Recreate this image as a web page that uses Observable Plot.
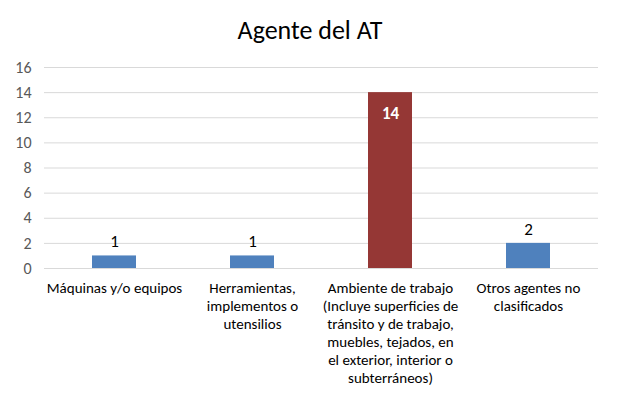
<!DOCTYPE html>
<html>
<head>
<meta charset="utf-8">
<script src="https://cdn.jsdelivr.net/npm/d3@7"></script>
<script src="https://cdn.jsdelivr.net/npm/@observablehq/plot@0.6"></script>
<style>
  html, body { margin: 0; padding: 0; background: #fff; }
  body { width: 620px; height: 399px; overflow: hidden; font-family: Carlito, Calibri, Lato, sans-serif; }
  #title { height: 50px; line-height: 60px; text-align: center; font-size: 26px; color: #000; }
</style>
</head>
<body>
<div id="title">Agente del AT</div>
<div id="chart"></div>
<script>
const categories = [
  "Máquinas y/o equipos",
  "Herramientas,\nimplementos o\nutensilios",
  "Ambiente de trabajo\n(Incluye superficies de\ntránsito y de trabajo,\nmuebles, tejados, en\nel exterior, interior o\nsubterráneos)",
  "Otros agentes no\nclasificados"
];
const values = [1, 1, 14, 2];
const barColors = ["#4f81bd", "#4f81bd", "#953735", "#4f81bd"];
const yTicks = [0, 2, 4, 6, 8, 10, 12, 14, 16];

const data = categories.map((c, i) => ({cat: c, value: values[i], color: barColors[i]}));
const outside = data.filter(d => d.value < 5);
const inside = data.filter(d => d.value >= 5);

const chart = Plot.plot({
  width: 620,
  height: 349,
  marginTop: 17,
  marginBottom: 131,
  marginLeft: 44,
  marginRight: 22,
  style: {fontFamily: "Carlito, Calibri, Lato, sans-serif", fontSize: "16px", background: "#fff"},
  x: {domain: categories, paddingInner: 0.68, paddingOuter: 0.34, label: null},
  y: {domain: [0, 16], label: null},
  marks: [
    Plot.gridY(yTicks, {stroke: "#d9d9d9", strokeOpacity: 1, strokeWidth: 1}),
    Plot.axisY({ticks: yTicks, tickSize: 0, tickPadding: 13, fontSize: 16, color: "#595959", label: null}),
    Plot.axisX({tickSize: 0, tickPadding: 12, fontSize: 15, lineHeight: 1.2, color: "#000", label: null, textAnchor: "middle", lineAnchor: "top"}),
    Plot.barY(data, {x: "cat", y: "value", fill: "color"}),
    Plot.text(outside, {x: "cat", y: "value", text: d => String(d.value), dy: -14, fontSize: 17, fill: "#000"}),
    Plot.text(inside, {x: "cat", y: "value", text: d => String(d.value), dy: 21, fontSize: 17, fontWeight: "bold", fill: "#fff"})
  ]
});
document.getElementById("chart").appendChild(chart);
</script>
</body>
</html>
